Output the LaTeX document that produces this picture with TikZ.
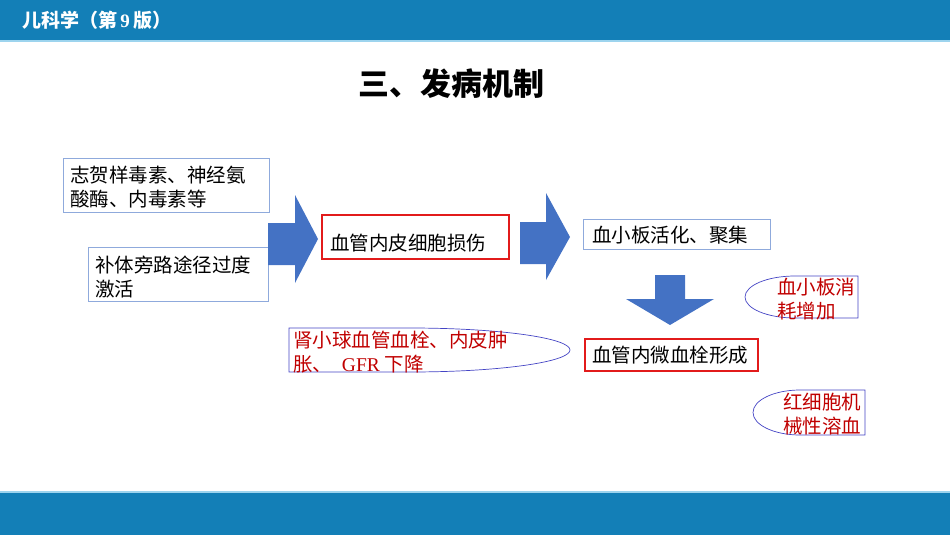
\documentclass[tikz,border=0pt]{standalone}
\usepackage{fontspec}
\setmainfont{Liberation Serif}
\newfontfamily\cjk{Noto Sans CJK SC}
\newfontfamily\lat{Liberation Serif}
\definecolor{barblue}{HTML}{137FB7}
\definecolor{barline}{HTML}{9DD4EE}
\definecolor{boxline}{HTML}{8FAADC}
\definecolor{arrowblue}{HTML}{4472C4}
\definecolor{redline}{HTML}{E21B1B}
\definecolor{redtext}{HTML}{C00000}
\definecolor{ellline}{HTML}{4444C4}
\tikzset{
  body/.style={font=\cjk\fontsize{19.5}{24}\selectfont, align=left, inner sep=0pt, anchor=west},
  redbody/.style={body, text=redtext},
  plainbox/.style={draw=boxline, line width=0.9pt},
  keybox/.style={draw=redline, line width=1.8pt},
  bigarrow/.style={fill=arrowblue, draw=none},
  oval/.style={draw=ellline, line width=0.7pt}
}
\begin{document}
\begin{tikzpicture}[x=1pt,y=-1pt]
\useasboundingbox (0,0) rectangle (950,535);
% header and footer bars
\fill[barblue] (0,0) rectangle (950,40);
\fill[barline] (0,40) rectangle (950,42);
\fill[barline] (0,491) rectangle (950,493);
\fill[barblue] (0,493) rectangle (950,535);
\node[anchor=west, inner sep=0pt, text=white, font=\cjk\bfseries\fontsize{19}{22}\selectfont] (hdr) at (22,20) {儿科学（第{\lat\bfseries\,9\,}版）};
\node[inner sep=0pt, font=\cjk\bfseries\fontsize{31}{34}\selectfont] (title) at (451,84) {三、发病机制};

% left boxes
\node[plainbox, minimum width=206pt, minimum height=54pt, anchor=north west] (b1) at (63,158) {};
\node[body] (t1) at (70,187) {志贺样毒素、神经氨\\酸酶、内毒素等};
\node[plainbox, minimum width=180pt, minimum height=54pt, anchor=north west] (b2) at (88,247) {};
\node[body] (t2) at (95,277) {补体旁路途径过度\\激活};

% arrow 1
\fill[bigarrow] (268,223) -- (295,223) -- (295,195) -- (318,239) -- (295,283) -- (295,265) -- (268,265) -- cycle;

% key box 1
\node[keybox, minimum width=187pt, minimum height=44pt, anchor=north west] (b3) at (321,214) {};
\node[body] (t3) at (330,243) {血管内皮细胞损伤};

% arrow 2
\fill[bigarrow] (520,222) -- (546,222) -- (546,193) -- (570,237) -- (546,280) -- (546,264) -- (520,264) -- cycle;

% platelet box
\node[plainbox, minimum width=187pt, minimum height=30pt, anchor=north west] (b4) at (583,219) {};
\node[body] (t4) at (592,235) {血小板活化、聚集};

% down arrow
\fill[bigarrow] (655,275) -- (685,275) -- (685,299) -- (714,299) -- (670,325) -- (626,299) -- (655,299) -- cycle;

% key box 2
\node[keybox, minimum width=173pt, minimum height=32pt, anchor=north west] (b5) at (584,338) {};
\node[body] (t5) at (592,355) {血管内微血栓形成};

% kidney oval
\draw[oval] (289,328) -- (410,328) arc[start angle=-90, end angle=90, x radius=160, y radius=22] -- (289,372) -- cycle;
\node[redbody] (t6) at (293,352) {肾小球血管血栓、内皮肿\\胀、{\lat\ \ GFR }下降};

% platelet consumption oval
\draw[oval] (858,276) -- (795,276) arc[start angle=270, end angle=90, x radius=50, y radius=21] -- (858,318) -- cycle;
\node[redbody] (t7) at (777,299) {血小板消\\耗增加};

% RBC oval
\draw[oval] (865,390) -- (800,390) arc[start angle=270, end angle=90, x radius=47, y radius=22.5] -- (865,435) -- cycle;
\node[redbody] (t8) at (783,414) {红细胞机\\械性溶血};
\end{tikzpicture}
\end{document}
